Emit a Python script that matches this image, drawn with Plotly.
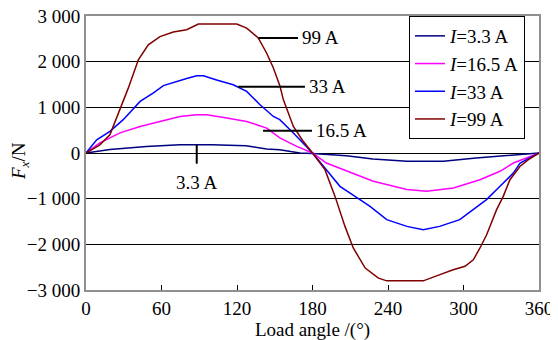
import plotly.graph_objects as go

# ---- data ----
ang_99 = [0, 11, 19, 24.4, 33.6, 41.6, 49.5, 58.8, 69.4, 80, 89.3, 100, 110, 119.8, 127.7, 136.9,
          143.5, 148.9, 154.2, 156.8, 164.8, 172, 180, 189.9, 197.9, 205.8, 212.4, 221.9, 232.4,
          239, 250, 260, 268, 278.6, 291.8, 301.2, 307.8, 313.1, 318.4, 326.3, 331.6, 336.9,
          345, 351.6, 360]
f_99 = [0, 180, 400, 770, 1420, 2040, 2370, 2550, 2650, 2700, 2825, 2825, 2825, 2825, 2735, 2520,
        2190, 1860, 1460, 1170, 580, 280, 0, -365, -950, -1607, -2080, -2520, -2740,
        -2800, -2800, -2800, -2800, -2690, -2555, -2480, -2340, -2080, -1790, -1240, -950, -585,
        -290, -145, 0]

ang_33 = [0, 8.5, 19, 29.6, 43, 53.3, 61.5, 72, 80, 88, 93.3, 103.8, 117, 127.7, 138.3, 148.9,
          154, 164.8, 172.7, 180, 191, 201.8, 217.7, 225.7, 239, 255, 268, 281, 297, 307.7,
          318.3, 329, 339.6, 345, 355.5, 360]
f_33 = [0, 290, 475, 730, 1130, 1310, 1475, 1570, 1630, 1690, 1690, 1600, 1495, 1350, 1057, 800,
        730, 440, 220, 0, -365, -730, -1020, -1170, -1460, -1607, -1680, -1607, -1460, -1240,
        -1020, -730, -440, -220, -70, 0]

ang_16 = [0, 11, 27, 43, 58.8, 74.7, 88, 96, 111.9, 127.7, 143.6, 154, 167.5, 180, 191, 204.5,
          228.3, 255, 270.7, 292, 313, 329, 339.6, 350, 360]
f_16 = [0, 220, 440, 580, 690, 800, 840, 840, 765, 690, 545, 330, 145, 0, -220, -365,
        -620, -800, -840, -765, -585, -400, -220, -110, 0]

ang_3 = [0, 11, 19, 48, 74.6, 100, 127, 143.6, 154, 170, 180, 207, 228, 255, 284, 310, 339.6, 360]
f_3 = [0, 35, 75, 145, 180, 180, 160, 88, 70, 0, -10, -60, -130, -180, -180, -110, -37, 0]

series_names = ["<i>I</i>=3.3 A", "<i>I</i>=16.5 A", "<i>I</i>=33 A", "<i>I</i>=99 A"]
series_colors = ["#000080", "#ff00ff", "#0000ff", "#800000"]

x_ticks = [0, 60, 120, 180, 240, 300, 360]
y_ticks = [-3000, -2000, -1000, 0, 1000, 2000, 3000]
y_ticklabels = ["\u22123 000", "\u22122 000", "\u22121 000", "0", "1 000", "2 000", "3 000"]

FONT = "Times New Roman, Liberation Serif, serif"
FS = 19

fig = go.Figure()
for xs, ys, name, col in zip([ang_3, ang_16, ang_33, ang_99], [f_3, f_16, f_33, f_99],
                             series_names, series_colors):
    fig.add_trace(go.Scatter(x=xs, y=ys, mode="lines", name=name,
                             line=dict(color=col, width=1.5)))

# leader lines and labels
lines = [
    (137, 2520, 168.5, 2520),
    (121, 1452, 174, 1452),
    (140.7, 488, 179.6, 488),
    (88, 182, 88, -234),
]
for x0, y0, x1, y1 in lines:
    fig.add_shape(type="line", xref="x", yref="y", x0=x0, y0=y0, x1=x1, y1=y1,
                  line=dict(color="black", width=2))
labels = [
    (170, 2520, "99 A"),
    (176, 1452, "33 A"),
    (181, 488, "16.5 A"),
]
for x, y, t in labels:
    fig.add_annotation(x=x, y=y, xref="x", yref="y", text=t, showarrow=False,
                       xanchor="left", yanchor="middle", font=dict(size=FS, family=FONT, color="black"))
fig.add_annotation(x=88, y=-370, xref="x", yref="y", text="3.3 A", showarrow=False,
                   xanchor="center", yanchor="top", font=dict(size=FS, family=FONT, color="black"))

# y axis title
fig.add_annotation(x=-0.146, y=0.47, xref="paper", yref="paper",
                   text="<i>F</i><sub><i>x</i></sub>/N", showarrow=False, textangle=-90,
                   xanchor="center", yanchor="middle", font=dict(size=FS, family=FONT, color="black"))

fig.update_layout(
    width=558, height=340,
    margin=dict(l=78, r=27, t=8, b=58),
    paper_bgcolor="white", plot_bgcolor="white",
    font=dict(family=FONT, size=FS, color="black"),
    showlegend=True,
    legend=dict(x=0.713, y=1.0, xanchor="left", yanchor="top",
                bordercolor="black", borderwidth=1, bgcolor="white",
                font=dict(size=FS, family=FONT), tracegroupgap=0,
                itemwidth=30),
    xaxis=dict(range=[0, 360], tickvals=x_ticks, ticks="inside", ticklen=5, tickcolor="black",
               showgrid=False, zeroline=False, showline=True, linecolor="#909090", linewidth=2,
               mirror=True, automargin=False, ticklabeloverflow="allow",
               title=dict(text="Load angle /(\u00b0)", standoff=0,
                          font=dict(size=FS, family=FONT)),
               tickfont=dict(size=FS, family=FONT)),
    yaxis=dict(range=[-3000, 3000], tickvals=y_ticks, ticktext=y_ticklabels, ticks="inside",
               ticklen=4, tickcolor="black", showgrid=True, gridcolor="black", gridwidth=1,
               zeroline=True, zerolinecolor="black", zerolinewidth=1, automargin=False,
               ticklabeloverflow="allow",
               showline=True, linecolor="#909090", linewidth=2, mirror=True,
               tickfont=dict(size=FS, family=FONT)),
)

fig.write_html("out.html")
